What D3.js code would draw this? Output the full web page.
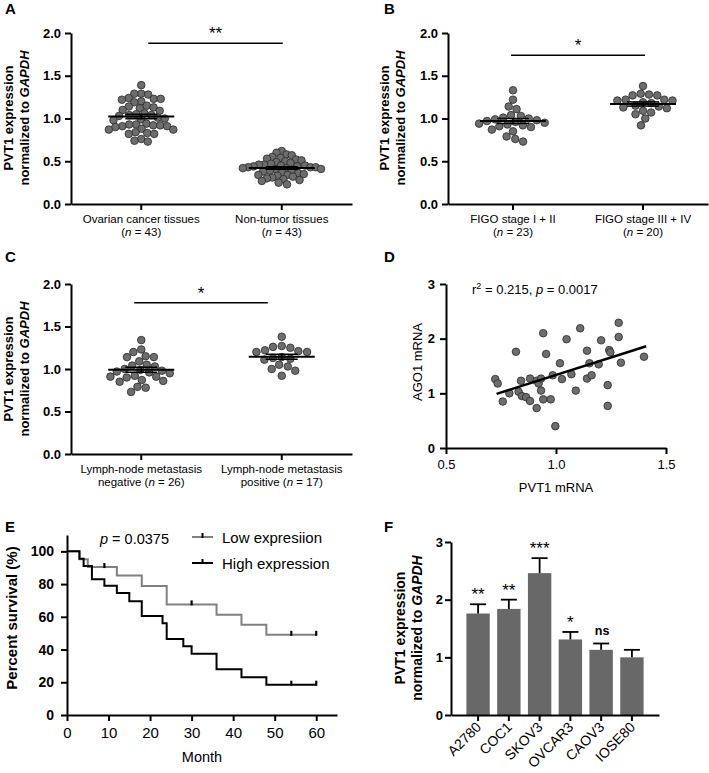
<!DOCTYPE html>
<html><head><meta charset="utf-8">
<script src="https://cdn.jsdelivr.net/npm/d3@7"></script>
<style>
body{margin:0;background:#fff}
text{font-family:"Liberation Sans",Arial,Helvetica,sans-serif;fill:#000}
</style>
</head><body>
<svg id="c" width="709" height="773"></svg>
<script>
// ---------------- DATA ----------------
// Panel A
const aCategories = ["Ovarian cancer tissues", "Non-tumor tissues"];
const aN = [43, 43];
const aTumor = [1.39,1.29,1.29,1.28,1.24,1.23,1.23,1.22,1.20,1.19,1.15,1.14,1.13,1.12,1.10,1.09,1.06,1.05,1.04,1.04,1.03,1.01,1.00,0.99,0.98,0.94,0.93,0.93,0.92,0.92,0.91,0.91,0.90,0.88,0.87,0.87,0.84,0.83,0.82,0.82,0.76,0.74,0.73];
const aNonTumor = [0.62,0.60,0.58,0.57,0.55,0.54,0.53,0.52,0.51,0.50,0.49,0.48,0.47,0.46,0.46,0.45,0.45,0.44,0.44,0.43,0.43,0.43,0.42,0.42,0.41,0.41,0.40,0.39,0.38,0.37,0.36,0.35,0.34,0.34,0.33,0.32,0.31,0.30,0.29,0.28,0.27,0.25,0.23];
// Panel B
const bCategories = ["FIGO stage I + II", "FIGO stage III + IV"];
const bN = [23, 20];
const bStage12 = [1.33,1.22,1.14,1.11,1.04,1.03,1.01,1.00,0.99,0.98,0.97,0.96,0.95,0.94,0.93,0.92,0.91,0.90,0.87,0.85,0.79,0.76,0.73];
const bStage34 = [1.38,1.29,1.28,1.27,1.27,1.22,1.22,1.21,1.21,1.19,1.18,1.15,1.14,1.13,1.12,1.09,1.07,1.05,1.00,0.92];
// Panel C
const cCategories = ["Lymph-node metastasis negative", "Lymph-node metastasis positive"];
const cN = [26, 17];
const cNegative = [1.34,1.23,1.20,1.15,1.14,1.14,1.09,1.05,1.04,1.03,1.00,0.99,0.98,0.97,0.96,0.95,0.92,0.91,0.91,0.90,0.87,0.86,0.85,0.79,0.78,0.73];
const cPositive = [1.38,1.27,1.26,1.25,1.22,1.21,1.20,1.20,1.14,1.13,1.12,1.11,1.05,1.03,1.00,0.98,0.92];
const dotTicks = [0, 0.5, 1.0, 1.5, 2.0];
// Panel D
const dPVT1 = [0.724,0.735,0.758,0.788,0.818,0.830,0.841,0.845,0.864,0.882,0.882,0.912,0.912,0.921,0.932,0.932,0.942,0.942,0.955,0.976,0.985,0.997,1.018,1.027,1.048,1.070,1.090,1.110,1.141,1.141,1.152,1.162,1.194,1.205,1.235,1.235,1.242,1.247,1.285,1.285,1.295,1.400];
const dAGO1 = [1.26,1.18,0.85,1.00,1.76,1.03,1.23,0.95,0.93,1.27,0.86,1.23,0.73,1.18,1.27,1.05,2.10,0.89,1.72,0.89,1.33,0.40,1.55,1.26,1.99,1.35,1.05,2.19,1.78,1.27,1.55,1.33,1.53,1.97,1.15,0.77,1.79,1.75,2.29,2.03,1.56,1.67];
const dFitX = [0.73, 1.41];
const dFitY = [0.99, 1.86];
const dXTicks = [0.5, 1.0, 1.5];
const dYTicks = [0, 1, 2, 3];
// Panel E
const eLowMonths = [0, 3, 5, 12, 18, 24, 36, 42, 48, 60];
const eLowSurvival = [100, 95.2, 90.4, 85.2, 78.8, 67.6, 61.3, 55.2, 49.0, 49.0];
const eLowCensored = [9, 30, 54, 60];
const eHighMonths = [0, 3, 4, 6, 9, 12, 15, 18, 23, 24, 28, 30, 36, 42, 48, 60];
const eHighSurvival = [100, 95.5, 91.0, 83.0, 79.0, 74.5, 69.5, 60.5, 56.0, 46.5, 42.0, 37.5, 28.0, 23.0, 18.5, 18.5];
const eHighCensored = [54, 60];
const eXTicks = [0, 10, 20, 30, 40, 50, 60];
const eYTicks = [0, 20, 40, 60, 80, 100];
// Panel F
const fCells = ["A2780", "COC1", "SKOV3", "OVCAR3", "CAOV3", "IOSE80"];
const fMeans = [1.76, 1.84, 2.46, 1.31, 1.13, 1.00];
const fSEM = [0.16, 0.16, 0.26, 0.13, 0.11, 0.13];
const fSig = ["**", "**", "***", "*", "ns", ""];
const fYTicks = [0, 1, 2, 3];

// ---------------- DRAWING ----------------
const svg = d3.select("#c");
const PT_FILL = "#6d6d6d", PT_STROKE = "#2a2a2a", STAR = "#777";

function styleAxis(sel, w, fs, bold) {
  sel.select(".domain").attr("stroke", "#000").attr("stroke-width", w);
  sel.selectAll(".tick line").attr("stroke", "#000").attr("stroke-width", w);
  sel.selectAll(".tick text").attr("font-size", fs).attr("font-weight", bold ? "bold" : "normal")
     .attr("font-family", '"Liberation Sans",Arial,sans-serif').attr("fill", "#000");
}

function panelLabel(t, x, y) {
  svg.append("text").attr("x", x).attr("y", y).attr("font-size", 15).attr("font-weight", "bold").text(t);
}

function yTitle(cy, b1, b2, fs) {
  svg.append("text").attr("transform", `translate(${b1},${cy}) rotate(-90)`)
    .attr("text-anchor", "middle").attr("font-size", fs).attr("font-weight", "bold").text("PVT1 expression");
  const t2 = svg.append("text").attr("transform", `translate(${b2},${cy}) rotate(-90)`)
    .attr("text-anchor", "middle").attr("font-size", fs).attr("font-weight", "bold");
  t2.append("tspan").text("normalized to ");
  t2.append("tspan").attr("font-style", "italic").text("GAPDH");
}

// beeswarm layout with elliptical spacing (hx horizontal, vy vertical)
function swarm(values, y, hx, vy) {
  const items = values.map(v => ({ v, y: y(v) })).sort((a, b) => a.y - b.y);
  const placed = [];
  const hit = (q, c, py) => ((q.x - c) / hx) ** 2 + ((q.y - py) / vy) ** 2 < 1 - 1e-6;
  for (const p of items) {
    const cands = [0];
    for (const q of placed) {
      const dy = p.y - q.y;
      if (Math.abs(dy) < vy) { const dx = hx * Math.sqrt(1 - (dy / vy) ** 2); cands.push(q.x + dx, q.x - dx); }
    }
    cands.sort((a, b) => Math.abs(a) - Math.abs(b) || a - b);
    for (const c of cands) { if (!placed.some(q => hit(q, c, p.y))) { p.x = c; break; } }
    placed.push(p);
  }
  return placed;
}

function dotPanel(o) {
  const g = svg.append("g");
  const x = d3.scaleBand().domain(o.categories).range([o.left, o.right]);
  const y = d3.scaleLinear().domain([0, 2]).range([o.bottom, o.top]);
  const ya = g.append("g").attr("transform", `translate(${o.left},0)`)
    .call(d3.axisLeft(y).tickValues(dotTicks).tickFormat(d3.format(".1f")).tickSize(6).tickPadding(4).tickSizeOuter(0));
  styleAxis(ya, 2, 13, true);
  const xa = g.append("g").attr("transform", `translate(0,${o.bottom})`)
    .call(d3.axisBottom(x).tickSize(6).tickSizeOuter(0).tickFormat(""));
  styleAxis(xa, 2, 11, false);
  o.categories.forEach((c, i) => {
    const cx = x(c) + x.bandwidth() / 2;
    g.append("text").attr("x", cx).attr("y", o.bottom + 18.5).attr("text-anchor", "middle")
      .attr("font-size", 11.5).attr("fill", "#222").text(o.line1[i]);
    const t2 = g.append("text").attr("x", cx).attr("y", o.bottom + 31.5).attr("text-anchor", "middle")
      .attr("font-size", 11.5).attr("fill", "#222");
    t2.append("tspan").text(o.line2[i] + "(");
    t2.append("tspan").attr("font-style", "italic").text("n");
    t2.append("tspan").text(" = " + o.ns[i] + ")");
    const vals = o.groups[i];
    const r = 3.8;
    const pts = swarm(vals, y, o.hx[i], o.vy);
    g.append("g").selectAll("circle").data(pts).join("circle")
      .attr("cx", d => cx + d.x).attr("cy", d => d.y).attr("r", r)
      .attr("fill", PT_FILL).attr("stroke", PT_STROKE).attr("stroke-width", 0.8);
    const m = d3.mean(vals), s = d3.deviation(vals) / Math.sqrt(vals.length);
    const ln = (x1, y1, x2, y2, w) => g.append("line").attr("x1", x1).attr("y1", y1).attr("x2", x2).attr("y2", y2)
      .attr("stroke", "#000").attr("stroke-width", w);
    ln(cx - 33, y(m), cx + 33, y(m), 2);
    ln(cx, y(m - s), cx, y(m + s), 1.5);
    ln(cx - 16, y(m - s), cx + 16, y(m - s), 1.5);
    ln(cx - 16, y(m + s), cx + 16, y(m + s), 1.5);
  });
  const c0 = x(o.categories[0]) + x.bandwidth() / 2, c1 = x(o.categories[1]) + x.bandwidth() / 2;
  g.append("line").attr("x1", c0 + o.sigOff[0]).attr("x2", c1 + o.sigOff[1])
    .attr("y1", y(o.sigLevel)).attr("y2", y(o.sigLevel)).attr("stroke", "#000").attr("stroke-width", 1.6);
  g.append("text").attr("x", (c0 + o.sigOff[0] + c1 + o.sigOff[1]) / 2).attr("y", y(o.sigLevel) - 4)
    .attr("text-anchor", "middle").attr("font-size", 17).attr("fill", STAR).text(o.sigText);
}

// Panel A
panelLabel("A", 5, 14);
dotPanel({ left: 71, right: 352, top: 33, bottom: 204, categories: aCategories, groups: [aTumor, aNonTumor],
  line1: aCategories, line2: ["", ""], ns: aN, sigLevel: 1.88, sigOff: [7, 1], sigText: "**", hx: [7, 5.4], vy: 7 });
yTitle(118, 13, 28.5, 13);

// Panel B
panelLabel("B", 384, 14);
dotPanel({ left: 448, right: 708, top: 33, bottom: 204, categories: bCategories, groups: [bStage12, bStage34],
  line1: bCategories, line2: ["", ""], ns: bN, sigLevel: 1.74, sigOff: [-2, 2], sigText: "*", hx: [8.3, 8.3], vy: 8 });
yTitle(118, 389, 404.5, 13);

// Panel C
panelLabel("C", 5, 262);
dotPanel({ left: 71, right: 352, top: 284, bottom: 454, categories: cCategories, groups: [cNegative, cPositive],
  line1: ["Lymph-node metastasis", "Lymph-node metastasis"], line2: ["negative ", "positive "], ns: cN,
  sigLevel: 1.78, sigOff: [-7, -14], sigText: "*", hx: [8.3, 8.8], vy: 8 });
yTitle(369, 13, 28.5, 13);

// Panel D
panelLabel("D", 384, 262);
(function () {
  const g = svg.append("g");
  const x = d3.scaleLinear().domain([0.5, 1.5]).range([446, 666]);
  const y = d3.scaleLinear().domain([0, 3]).range([448, 284]);
  const ya = g.append("g").attr("transform", "translate(446,0)")
    .call(d3.axisLeft(y).tickValues(dYTicks).tickFormat(d3.format("d")).tickSize(6).tickPadding(5).tickSizeOuter(0));
  styleAxis(ya, 2, 13, true);
  const xa = g.append("g").attr("transform", "translate(0,448)")
    .call(d3.axisBottom(x).tickValues(dXTicks).tickFormat(d3.format(".1f")).tickSize(6).tickPadding(6).tickSizeOuter(0));
  styleAxis(xa, 2, 13, false);
  g.append("g").selectAll("circle").data(dPVT1.map((v, i) => [v, dAGO1[i]])).join("circle")
    .attr("cx", d => x(d[0])).attr("cy", d => y(d[1])).attr("r", 3.8)
    .attr("fill", PT_FILL).attr("stroke", PT_STROKE).attr("stroke-width", 0.8);
  g.append("line").attr("x1", x(dFitX[0])).attr("y1", y(dFitY[0])).attr("x2", x(dFitX[1])).attr("y2", y(dFitY[1]))
    .attr("stroke", "#000").attr("stroke-width", 2.6);
  const t = g.append("text").attr("x", 472).attr("y", 294).attr("font-size", 13);
  t.append("tspan").text("r");
  t.append("tspan").attr("dy", -5).attr("font-size", 9).text("2");
  t.append("tspan").attr("dy", 5).text(" = 0.215, ");
  t.append("tspan").attr("font-style", "italic").text("p");
  t.append("tspan").text(" = 0.0017");
  g.append("text").attr("x", 556).attr("y", 492).attr("text-anchor", "middle").attr("font-size", 13).text("PVT1 mRNA");
  g.append("text").attr("transform", "translate(422,362) rotate(-90)").attr("text-anchor", "middle")
    .attr("font-size", 13).text("AGO1 mRNA");
})();

// Panel E
panelLabel("E", 5, 532);
(function () {
  const g = svg.append("g");
  const x = d3.scaleLinear().domain([0, 65]).range([67, 337]);
  const y = d3.scaleLinear().domain([0, 110]).range([715, 535]);
  const ya = g.append("g").attr("transform", "translate(67,0)")
    .call(d3.axisLeft(y).tickValues(eYTicks).tickFormat(d3.format("d")).tickSize(6).tickPadding(7).tickSizeOuter(0));
  styleAxis(ya, 2, 14, true);
  const xa = g.append("g").attr("transform", "translate(0,715)")
    .call(d3.axisBottom(x).tickValues(eXTicks).tickFormat(d3.format("d")).tickSize(6).tickPadding(6).tickSizeOuter(0));
  styleAxis(xa, 2, 15, false);
  const step = d3.line().x(d => x(d[0])).y(d => y(d[1])).curve(d3.curveStepAfter);
  const survAt = (months, surv, t) => surv[d3.bisectRight(months, t) - 1];
  const curves = [
    { months: eLowMonths, surv: eLowSurvival, cens: eLowCensored, color: "#808080" },
    { months: eHighMonths, surv: eHighSurvival, cens: eHighCensored, color: "#000" }
  ];
  curves.forEach(c => {
    g.append("path").attr("d", step(c.months.map((m, i) => [m, c.surv[i]])))
      .attr("fill", "none").attr("stroke", c.color).attr("stroke-width", 2);
  });
  curves.forEach(c => {
    g.append("g").selectAll("line").data(c.cens).join("line")
      .attr("x1", d => x(d)).attr("x2", d => x(d))
      .attr("y1", d => y(survAt(c.months, c.surv, d)) - 4).attr("y2", d => y(survAt(c.months, c.surv, d)) + 1)
      .attr("stroke", "#000").attr("stroke-width", 2.2);
  });
  const pt = g.append("text").attr("x", 100).attr("y", 544).attr("font-size", 14.5);
  pt.append("tspan").attr("font-style", "italic").text("p");
  pt.append("tspan").text(" = 0.0375");
  const legend = [["Low expresiion", "#808080", 537], ["High expression", "#000", 563]];
  legend.forEach(l => {
    g.append("line").attr("x1", 192).attr("x2", 213).attr("y1", l[2]).attr("y2", l[2]).attr("stroke", l[1]).attr("stroke-width", 2);
    g.append("line").attr("x1", 202.5).attr("x2", 202.5).attr("y1", l[2] - 4).attr("y2", l[2] + 1).attr("stroke", "#000").attr("stroke-width", 2);
    g.append("text").attr("x", 222).attr("y", l[2] + 5.5).attr("font-size", 15).text(l[0]);
  });
  g.append("text").attr("x", 202).attr("y", 762).attr("text-anchor", "middle").attr("font-size", 14.5).text("Month");
  g.append("text").attr("transform", "translate(17,618) rotate(-90)").attr("text-anchor", "middle")
    .attr("font-size", 15).attr("font-weight", "bold").text("Percent survival (%)");
})();

// Panel F
panelLabel("F", 384, 532);
(function () {
  const g = svg.append("g");
  const x = d3.scaleBand().domain(fCells).range([451, 659]).paddingInner(0.24).paddingOuter(0.5);
  const y = d3.scaleLinear().domain([0, 3]).range([715, 542]);
  g.append("g").selectAll("rect").data(fCells).join("rect")
    .attr("x", d => x(d)).attr("width", x.bandwidth())
    .attr("y", (d, i) => y(fMeans[i])).attr("height", (d, i) => 715 - y(fMeans[i]))
    .attr("fill", "#686868");
  fCells.forEach((c, i) => {
    const cx = x(c) + x.bandwidth() / 2;
    const top = y(fMeans[i] + fSEM[i]);
    g.append("line").attr("x1", cx).attr("x2", cx).attr("y1", y(fMeans[i])).attr("y2", top).attr("stroke", "#000").attr("stroke-width", 1.8);
    g.append("line").attr("x1", cx - 8).attr("x2", cx + 8).attr("y1", top).attr("y2", top).attr("stroke", "#000").attr("stroke-width", 1.8);
    if (fSig[i] === "ns") {
      g.append("text").attr("x", cx + 1).attr("y", top - 8).attr("text-anchor", "middle").attr("font-size", 12.5)
        .attr("font-weight", "bold").attr("fill", "#333").text("ns");
    } else if (fSig[i]) {
      g.append("text").attr("x", cx).attr("y", top - 4).attr("text-anchor", "middle").attr("font-size", 17)
        .attr("fill", STAR).text(fSig[i]);
    }
  });
  const ya = g.append("g").attr("transform", "translate(451,0)")
    .call(d3.axisLeft(y).tickValues(fYTicks).tickFormat(d3.format("d")).tickSize(6).tickPadding(2).tickSizeOuter(0));
  styleAxis(ya, 2, 13, true);
  const xa = g.append("g").attr("transform", "translate(0,715)")
    .call(d3.axisBottom(x).tickSize(6).tickSizeOuter(0));
  styleAxis(xa, 2, 14, false);
  xa.selectAll(".tick text").attr("text-anchor", "end").attr("dy", 0)
    .attr("transform", "translate(4,13) rotate(-45)").attr("y", 0).attr("x", 0);
  yTitle(628, 405, 422, 14);
})();
</script>
</body></html>
